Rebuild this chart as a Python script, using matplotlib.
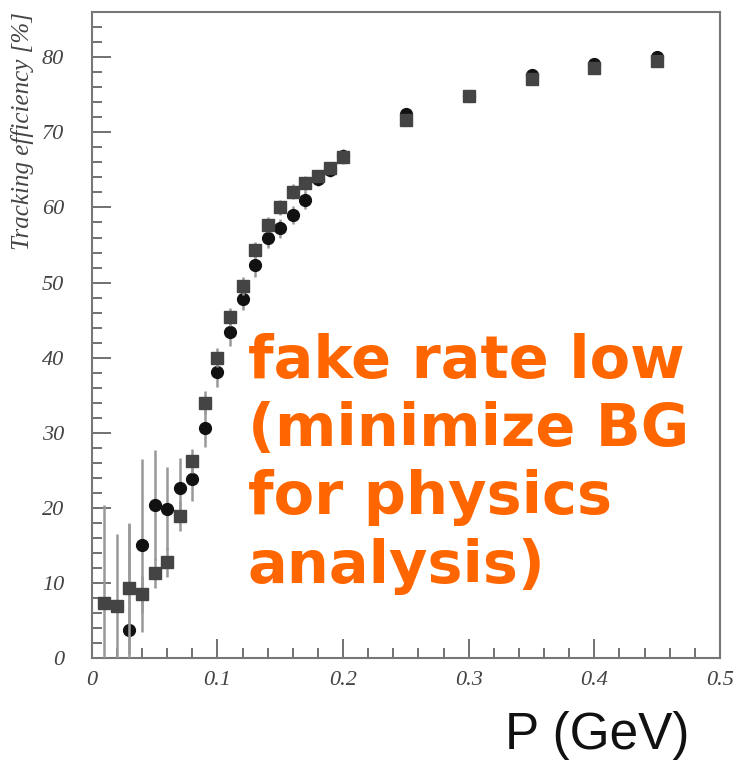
import matplotlib
matplotlib.use("Agg")
import matplotlib.pyplot as plt
from matplotlib.ticker import MultipleLocator

# square markers (dark grey)
sq_p = [0.01, 0.02, 0.03, 0.04, 0.05, 0.06, 0.07, 0.08, 0.09, 0.10, 0.11, 0.12,
        0.13, 0.14, 0.15, 0.16, 0.17, 0.18, 0.19, 0.20, 0.25, 0.30, 0.35, 0.40, 0.45]
sq_eff = [7.4, 7.0, 9.3, 8.5, 11.4, 12.8, 18.9, 26.2, 34.0, 40.0, 45.4, 49.6,
          54.4, 57.7, 60.0, 62.1, 63.2, 64.2, 65.3, 66.7, 71.7, 74.8, 77.1, 78.5, 79.5]
sq_err = [13.0, 9.5, 8.7, 2.5, 2.0, 2.0, 2.0, 1.6, 1.5, 1.3, 1.2, 1.2,
          1.0, 1.0, 1.0, 1.0, 1.0, 0.8, 0.8, 0.8, 0.6, 0.5, 0.5, 0.5, 0.5]

# circle markers (black)
ci_p = [0.03, 0.04, 0.05, 0.06, 0.07, 0.08, 0.09, 0.10, 0.11, 0.12, 0.13, 0.14,
        0.15, 0.16, 0.17, 0.18, 0.19, 0.20, 0.25, 0.30, 0.35, 0.40, 0.45]
ci_eff = [3.8, 15.0, 20.4, 19.9, 22.6, 23.9, 30.6, 38.1, 43.4, 47.8, 52.3, 55.9,
          57.2, 59.0, 61.0, 63.8, 65.0, 66.8, 72.4, 74.9, 77.6, 79.1, 80.0]
ci_err = [14.0, 11.5, 7.3, 5.5, 4.0, 3.0, 2.5, 2.0, 1.8, 1.5, 1.5, 1.3,
          1.2, 1.2, 1.2, 1.0, 1.0, 1.0, 0.6, 0.5, 0.5, 0.5, 0.5]

fig = plt.figure(figsize=(7.4, 7.6), dpi=100)
ax = fig.add_axes([0.124, 0.134, 0.849, 0.850])

ax.errorbar(ci_p, ci_eff, yerr=ci_err, fmt="o", color="#111111", ms=8.5,
            ecolor="#999999", elinewidth=1.8, capsize=0, zorder=3)
ax.errorbar(sq_p, sq_eff, yerr=sq_err, fmt="s", color="#444444", ms=8.5,
            ecolor="#999999", elinewidth=1.8, capsize=0, zorder=4)

ax.set_xlim(0, 0.5)
ax.set_ylim(0, 86)
ax.xaxis.set_major_locator(MultipleLocator(0.1))
ax.xaxis.set_minor_locator(MultipleLocator(0.02))
ax.yaxis.set_major_locator(MultipleLocator(10))
ax.yaxis.set_minor_locator(MultipleLocator(2))
ax.tick_params(which="both", direction="in", color="#666666", width=1.3)
ax.tick_params(which="major", length=14)
ax.tick_params(which="minor", length=7)
ax.set_xticks([0, 0.1, 0.2, 0.3, 0.4, 0.5])
ax.set_xticklabels(["0", "0.1", "0.2", "0.3", "0.4", "0.5"])
for lab in ax.get_xticklabels() + ax.get_yticklabels():
    lab.set_fontfamily("Liberation Serif")
    lab.set_fontstyle("italic")
    lab.set_fontsize(16)
    lab.set_color("#444444")
ax.tick_params(axis="x", pad=9)
ax.tick_params(axis="y", pad=20)
for sp in ax.spines.values():
    sp.set_color("#777777")
    sp.set_linewidth(1.5)

fig.text(0.031, 0.984, "Tracking efficiency [%]", rotation=90, ha="center", va="top",
         family="Liberation Serif", style="italic", fontsize=18, color="#444444")

fig.text(0.932, 0.0, "P (GeV)", ha="right", va="bottom",
         family="Liberation Sans", fontsize=37, color="#111111")

fig.text(0.335, 0.562, "fake rate low\n(minimize BG\nfor physics\nanalysis)",
         ha="left", va="top", fontsize=42.5, fontweight="bold", color="#FF6600",
         family="DejaVu Sans", linespacing=1.25)

fig.savefig("out.png")
